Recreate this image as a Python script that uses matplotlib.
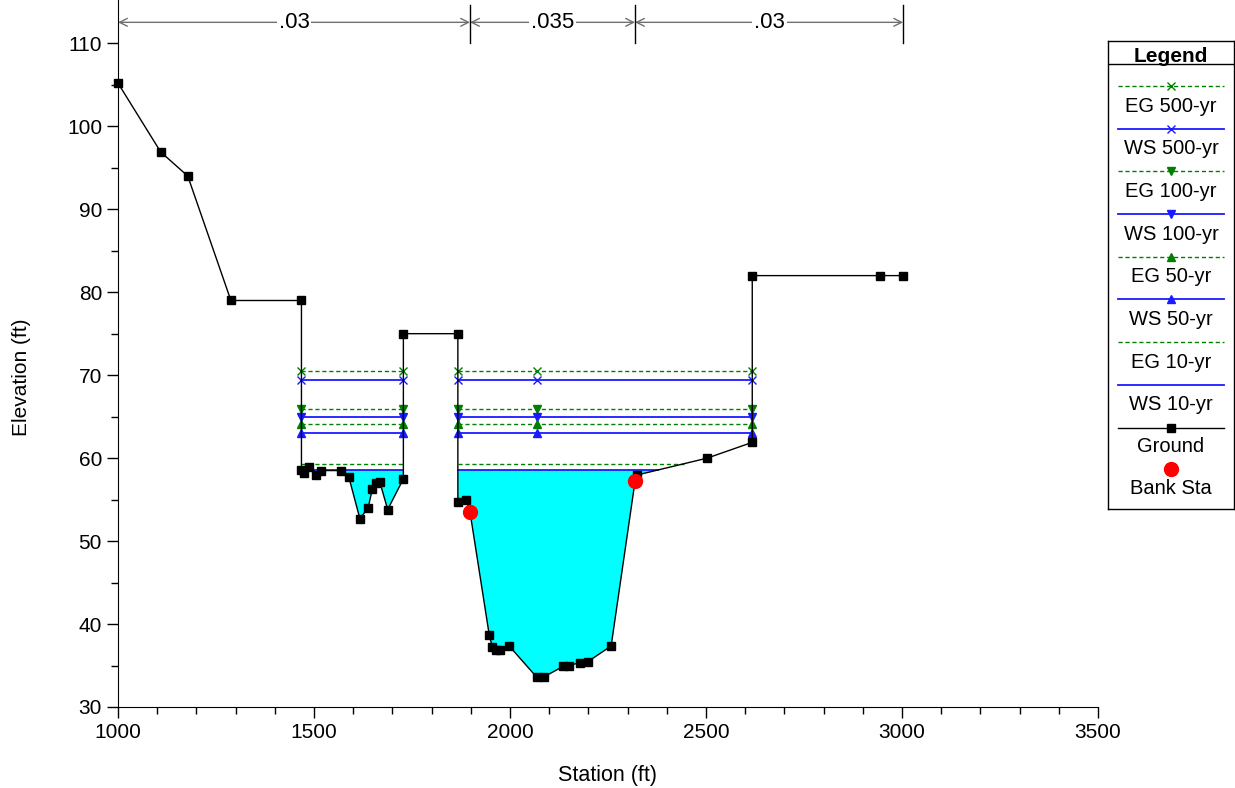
import matplotlib
matplotlib.use("Agg")
import matplotlib.pyplot as plt
import numpy as np

plt.rcParams['font.family'] = ['Liberation Sans', 'DejaVu Sans']

# ===== ground profile (station ft, elevation ft) =====
ground_sta = [1000, 1109, 1178, 1288, 1468, 1468, 1475, 1488, 1506, 1517, 1569,
              1589, 1617, 1638, 1649, 1659, 1668, 1688, 1728, 1728, 1867, 1867,
              1888, 1898, 1947, 1955, 1964, 1975, 1998, 2068, 2087, 2136, 2150,
              2179, 2198, 2258, 2319, 2323, 2503, 2618, 2618, 2944, 3003]
ground_elev = [105.2, 96.9, 94.0, 79.0, 79.0, 58.6, 58.2, 58.9, 58.0, 58.5, 58.5,
               57.7, 52.7, 54.0, 56.3, 57.0, 57.1, 53.8, 57.5, 75.0, 75.0, 54.7,
               55.0, 53.5, 38.7, 37.2, 36.9, 36.9, 37.35, 33.6, 33.65, 34.9, 35.0,
               35.35, 35.45, 37.35, 57.2, 57.95, 60.0, 61.9, 82.0, 82.0, 82.0]

# bank stations
bank_sta = [1898, 2319]
bank_elev = [53.5, 57.2]

# manning's n regions
n_breaks = [1000, 1898, 2319, 3003]
n_values = [".03", ".035", ".03"]

# profiles
prof_names = ["EG 500-yr", "WS 500-yr", "EG 100-yr", "WS 100-yr",
              "EG 50-yr", "WS 50-yr", "EG 10-yr", "WS 10-yr"]
prof_elev = [70.46, 69.42, 65.92, 64.99, 64.07, 63.06, 59.33, 58.57]
prof_marker = ["x", "x", "v", "v", "^", "^", None, None]

sta = np.array(ground_sta, dtype=float)
elv = np.array(ground_elev, dtype=float)


def wet_segments(x, y, z):
    segs = []
    start = None
    for i in range(len(x) - 1):
        x0, y0, x1, y1 = x[i], y[i], x[i + 1], y[i + 1]
        b0, b1 = y0 <= z, y1 <= z
        if b0 and start is None:
            start = x0
        if b0 and not b1:
            xc = x0 + (z - y0) / (y1 - y0) * (x1 - x0)
            segs.append((start, xc))
            start = None
        elif not b0 and b1:
            start = x0 + (z - y0) / (y1 - y0) * (x1 - x0)
    if start is not None:
        segs.append((start, x[-1]))
    return segs


fig = plt.figure(figsize=(12.35, 7.88), dpi=100)
ax = fig.add_axes([118 / 1235, 81 / 788, 980 / 1235, 707 / 788])

ylo, yhi = 30, 30 + 707 / 8.296
ax.set_xlim(1000, 3500)
ax.set_ylim(ylo, yhi)

# water fill for lowest profile
ax.fill_between(sta, elv, prof_elev[-1], where=elv < prof_elev[-1],
                interpolate=True, color="#00ffff", linewidth=0, zorder=1)

thalweg = sta[np.argmin(elv)]
for name, z, mk in zip(prof_names, prof_elev, prof_marker):
    is_eg = name.startswith("EG")
    col = "#008000" if is_eg else "#1a1aff"
    ls = (0, (3, 2)) if is_eg else "-"
    lw = 1.0 if is_eg else 1.3
    segs = wet_segments(sta, elv, z)
    for a, b in segs:
        ax.plot([a, b], [z, z], color=col, ls=ls, lw=lw, zorder=2)
    if mk:
        mx = sorted(set([s for seg in segs for s in seg] + [thalweg]))
        ax.plot(mx, [z] * len(mx), ls="none", marker=mk, color=col,
                markersize=6, mew=1.0, zorder=3)

ax.plot(sta, elv, color="black", lw=1.0, marker="s", markersize=5.5, zorder=4,
        clip_on=False)
ax.plot(bank_sta, bank_elev, ls="none", marker="o", color="red", markersize=10, zorder=5)

# manning's n bar along top
yn = 112.53
for xb in n_breaks[1:]:
    ax.plot([xb, xb], [110.0, 114.6], color="black", lw=1.0, clip_on=False, zorder=6)
for i, lab in enumerate(n_values):
    x0, x1 = n_breaks[i], n_breaks[i + 1]
    ax.annotate("", xy=(x0, yn), xytext=(x1, yn),
                arrowprops=dict(arrowstyle="<->", color="#707070", lw=1.0,
                                shrinkA=0, shrinkB=0, mutation_scale=14))
    ax.text((x0 + x1) / 2, yn, lab, ha="center", va="center", fontsize=16,
            bbox=dict(facecolor="white", edgecolor="none", pad=1.5), zorder=7)

# axes styling
for s in ["top", "right"]:
    ax.spines[s].set_visible(False)
ax.set_xticks(np.arange(1000, 3501, 500))
ax.set_xticks(np.arange(1000, 3501, 100), minor=True)
ax.set_yticks(np.arange(30, 111, 10))
ax.set_yticks(np.arange(35, 110, 10), minor=True)
ax.tick_params(which="major", length=8, width=1, labelsize=15, direction="out")
ax.tick_params(which="minor", length=5, width=1, direction="out")
fig.text(22 / 1235, 1 - 377 / 788, "Elevation (ft)", rotation=90, ha="center",
         va="center", fontsize=15)
fig.text(608 / 1235, 1 - 775 / 788, "Station (ft)", ha="center", va="center",
         fontsize=15.5)

# legend box drawn in pixel coordinates
L, T, R, B = 1108, 41, 1234, 509
lax = fig.add_axes([L / 1235, 1 - B / 788, (R - L) / 1235, (B - T) / 788])
lax.set_xlim(L, R)
lax.set_ylim(B, T)
lax.set_xticks([])
lax.set_yticks([])
for s in lax.spines.values():
    s.set_linewidth(1.0)
lax.text((L + R) / 2, 56, "Legend", ha="center", va="center", fontsize=15,
         fontweight="bold")
lax.plot([L, R], [64, 64], color="black", lw=1.0)
y = 86
step = 42.7
for name, mk in zip(prof_names, prof_marker):
    is_eg = name.startswith("EG")
    col = "#008000" if is_eg else "#1a1aff"
    ls = (0, (3, 2)) if is_eg else "-"
    lax.plot([1118, 1224], [y, y], color=col, ls=ls, lw=1.0 if is_eg else 1.3)
    if mk:
        lax.plot([1171], [y], marker=mk, color=col, markersize=6, mew=1.0)
    lax.text(1171, y + 20, name, ha="center", va="center", fontsize=14.5)
    y += step
lax.plot([1118, 1224], [y, y], color="black", lw=1.0)
lax.plot([1171], [y], marker="s", color="black", markersize=5.5)
lax.text(1171, y + 19, "Ground", ha="center", va="center", fontsize=14.5)
y += 41
lax.plot([1171], [y], marker="o", color="red", markersize=10)
lax.text(1171, y + 20, "Bank Sta", ha="center", va="center", fontsize=14.5)

fig.savefig("out.png", dpi=100)
